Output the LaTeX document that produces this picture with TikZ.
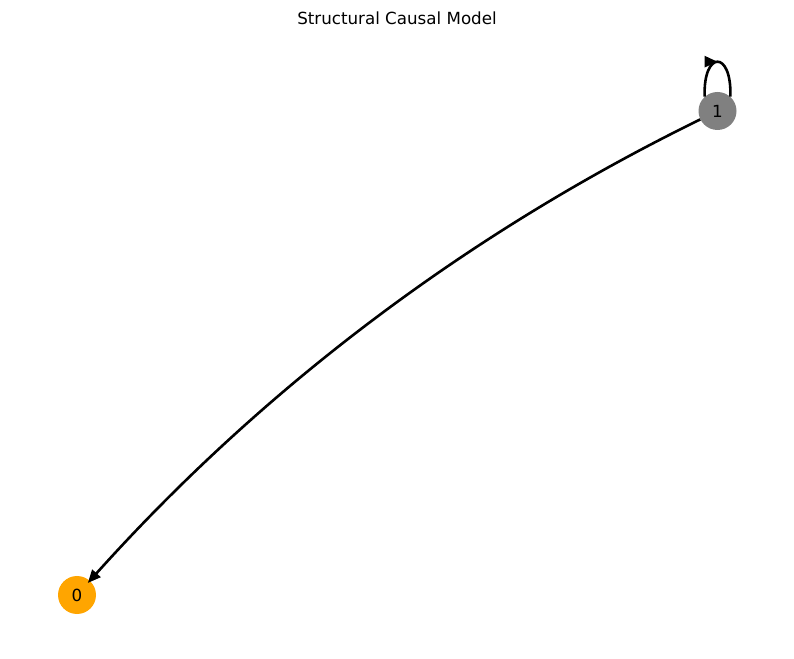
\documentclass[tikz,border=0pt]{standalone}
\usepackage{fontspec}
\setmainfont{DejaVu Sans}
\usetikzlibrary{arrows.meta,decorations.markings}
\begin{document}
\begin{tikzpicture}[x=1pt,y=1pt,
    vertex/.style={circle,inner sep=0pt,minimum size=38pt,font=\fontsize{16.7}{20}\selectfont},
    edge/.style={line width=2.6pt,-{Triangle[length=13pt,width=11pt]},shorten >=-3pt},
    loopedge/.style={line width=2.6pt,postaction={decorate},
      decoration={markings,mark=at position 0.5 with {\arrow{Triangle[length=13pt,width=11pt]}}}}]
      \useasboundingbox (0,0) rectangle (794,658);

      % title
      \node (title) at (397,640) {\fontsize{16.7}{20}\selectfont Structural Causal Model};

      % nodes
      \node[vertex,fill={rgb,255:red,255;green,165;blue,0}] (n0) at (77,63) {0};
      \node[vertex,fill={rgb,255:red,128;green,128;blue,128}] (n1) at (717.5,547) {1};

      % edges
      \draw[edge] (n1) to[bend right=11,looseness=0.87] (n0);

      % self loop
      \draw[loopedge] (n1.132) .. controls (703,608) and (732,608) .. (n1.48);
    \end{tikzpicture}
\end{document}
